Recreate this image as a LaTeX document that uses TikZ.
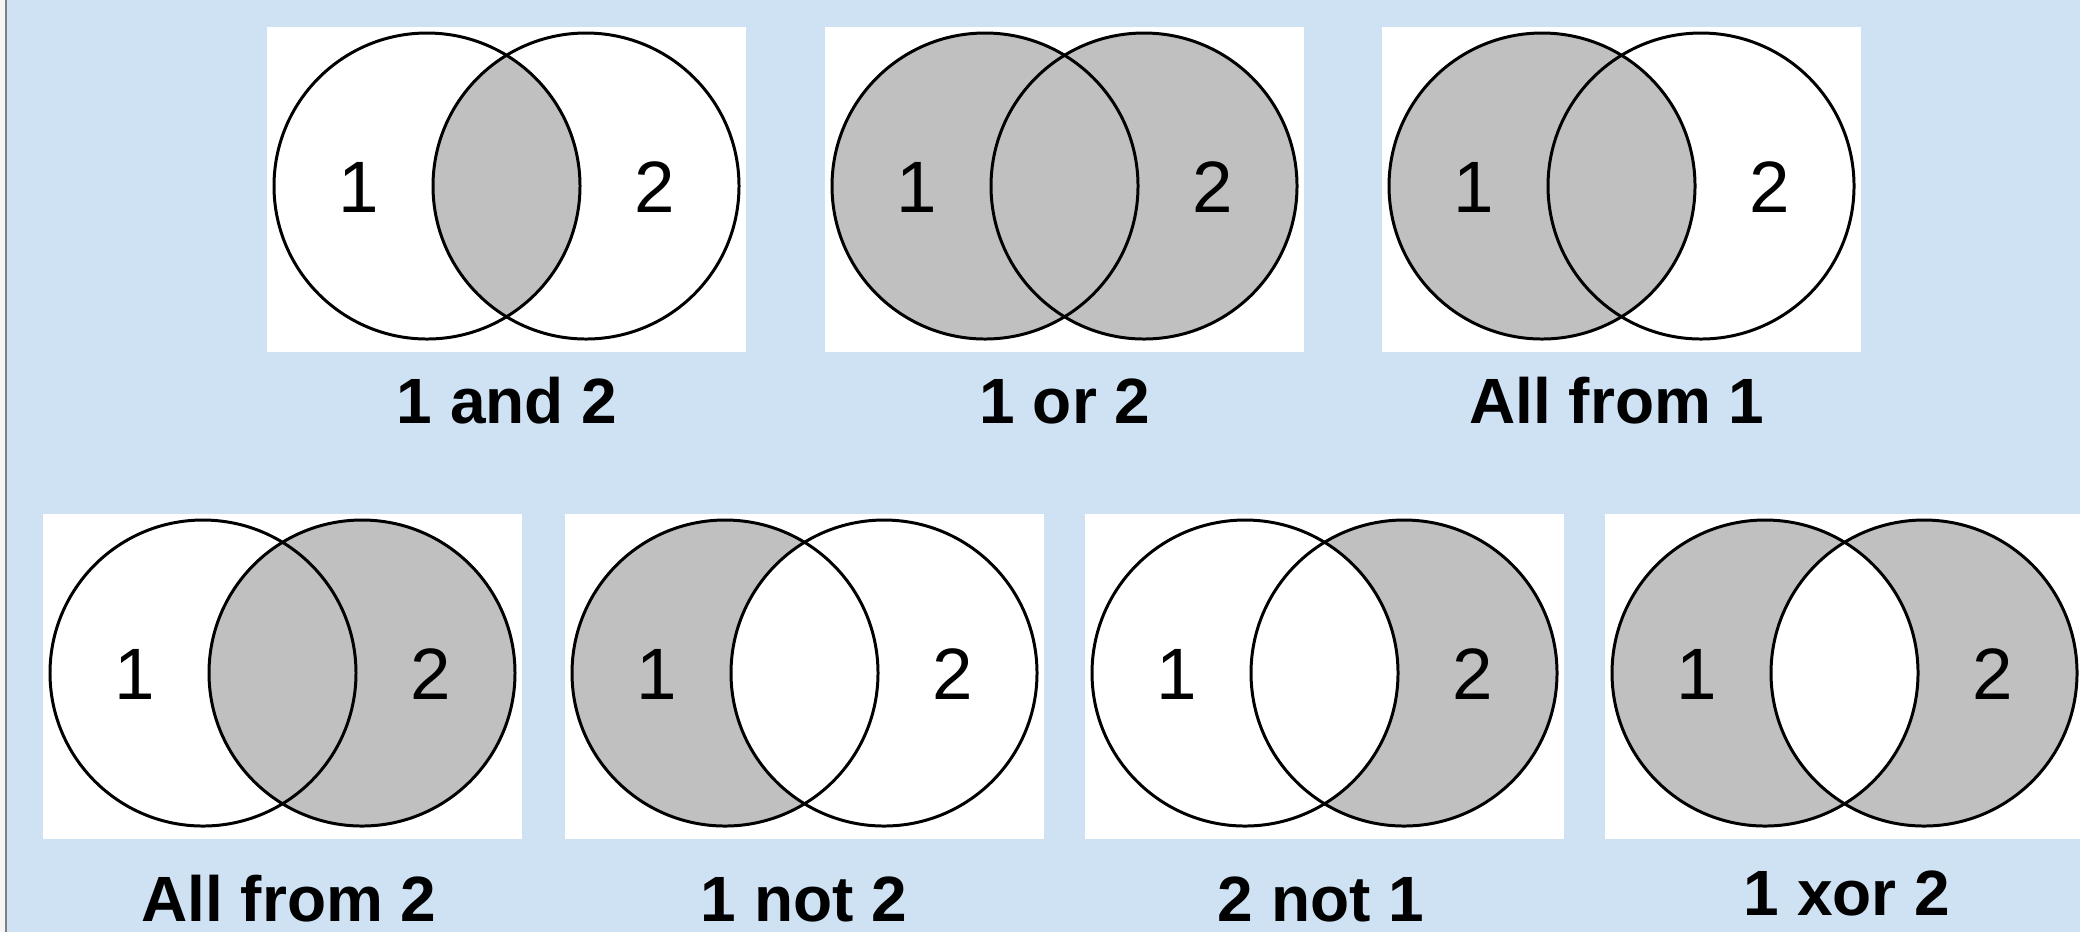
\documentclass[tikz,border=0pt]{standalone}
\usepackage{fontspec}
\setmainfont{Liberation Sans}
\definecolor{slideblue}{RGB}{207,226,243}
\definecolor{vennfill}{RGB}{192,192,192}
\begin{document}
\begin{tikzpicture}[x=0.01cm,y=-0.01cm]

    \tikzset{
      panel/.style={fill=white,draw=none},
      ring/.style={draw=black,line width=0.85pt},
      shade/.style={fill=vennfill},
      numlabel/.style={anchor=center,inner sep=0pt,font=\fontsize{20.7}{24}\selectfont},
      caption/.style={anchor=base,inner sep=0pt,font=\fontsize{18.2}{22}\selectfont\bfseries},
    }
    \useasboundingbox (0,0) rectangle (2080,932);
    \clip (0,0) rectangle (2080,932);
    \fill[slideblue] (0,0) rectangle (2080,932);
    \fill[gray!8] (0,0) rectangle (5,932);
    \draw[color=gray,line width=0.6pt] (6,0)--(6,932);

    % 1 and 2
    \begin{scope}[shift={(267,27)}]
	\fill[panel] (0,0) rectangle (479,325);
	\begin{scope}
	  \clip (160,159) circle (153);
	  \fill[shade] (319,159) circle (153);
	\end{scope}
	\draw[ring] (160,159) circle (153);
	\draw[ring] (319,159) circle (153);
	\node[numlabel] (andone) at (92,160) {1};
	\node[numlabel] (andtwo) at (388,160) {2};
    \end{scope}
    \node[caption] (andcap) at (507,423) {1 and 2};

    % 1 or 2
    \begin{scope}[shift={(825,27)}]
	\fill[panel] (0,0) rectangle (479,325);
	\fill[shade] (160,159) circle (153);
	\fill[shade] (319,159) circle (153);
	\draw[ring] (160,159) circle (153);
	\draw[ring] (319,159) circle (153);
	\node[numlabel] (orone) at (92,160) {1};
	\node[numlabel] (ortwo) at (388,160) {2};
    \end{scope}
    \node[caption] (orcap) at (1065,423) {1 or 2};

    % all from 1
    \begin{scope}[shift={(1382,27)}]
	\fill[panel] (0,0) rectangle (479,325);
	\fill[shade] (160,159) circle (153);
	\draw[ring] (160,159) circle (153);
	\draw[ring] (319,159) circle (153);
	\node[numlabel] (allaone) at (92,160) {1};
	\node[numlabel] (allatwo) at (388,160) {2};
    \end{scope}
    \node[caption] (allacap) at (1617,423) {All from 1};

    % all from 2
    \begin{scope}[shift={(43,514)}]
	\fill[panel] (0,0) rectangle (479,325);
	\fill[shade] (319,159) circle (153);
	\draw[ring] (160,159) circle (153);
	\draw[ring] (319,159) circle (153);
	\node[numlabel] (allbone) at (92,160) {1};
	\node[numlabel] (allbtwo) at (388,160) {2};
    \end{scope}
    \node[caption] (allbcap) at (289,921) {All from 2};

    % 1 not 2
    \begin{scope}[shift={(565,514)}]
	\fill[panel] (0,0) rectangle (479,325);
	\fill[shade] (160,159) circle (153);
	\begin{scope}
	  \clip (160,159) circle (153);
	  \fill[white] (319,159) circle (153);
	\end{scope}
	\draw[ring] (160,159) circle (153);
	\draw[ring] (319,159) circle (153);
	\node[numlabel] (notaone) at (92,160) {1};
	\node[numlabel] (notatwo) at (388,160) {2};
    \end{scope}
    \node[caption] (notacap) at (804,921) {1 not 2};

    % 2 not 1
    \begin{scope}[shift={(1085,514)}]
	\fill[panel] (0,0) rectangle (479,325);
	\fill[shade] (319,159) circle (153);
	\begin{scope}
	  \clip (160,159) circle (153);
	  \fill[white] (319,159) circle (153);
	\end{scope}
	\draw[ring] (160,159) circle (153);
	\draw[ring] (319,159) circle (153);
	\node[numlabel] (notbone) at (92,160) {1};
	\node[numlabel] (notbtwo) at (388,160) {2};
    \end{scope}
    \node[caption] (notbcap) at (1321,921) {2 not 1};

    % 1 xor 2
    \begin{scope}[shift={(1605,514)}]
	\fill[panel] (0,0) rectangle (479,325);
	\fill[shade] (160,159) circle (153);
	\fill[shade] (319,159) circle (153);
	\begin{scope}
	  \clip (160,159) circle (153);
	  \fill[white] (319,159) circle (153);
	\end{scope}
	\draw[ring] (160,159) circle (153);
	\draw[ring] (319,159) circle (153);
	\node[numlabel] (xorone) at (92,160) {1};
	\node[numlabel] (xortwo) at (388,160) {2};
    \end{scope}
    \node[caption] (xorcap) at (1847,915) {1 xor 2};

\end{tikzpicture}
\end{document}
